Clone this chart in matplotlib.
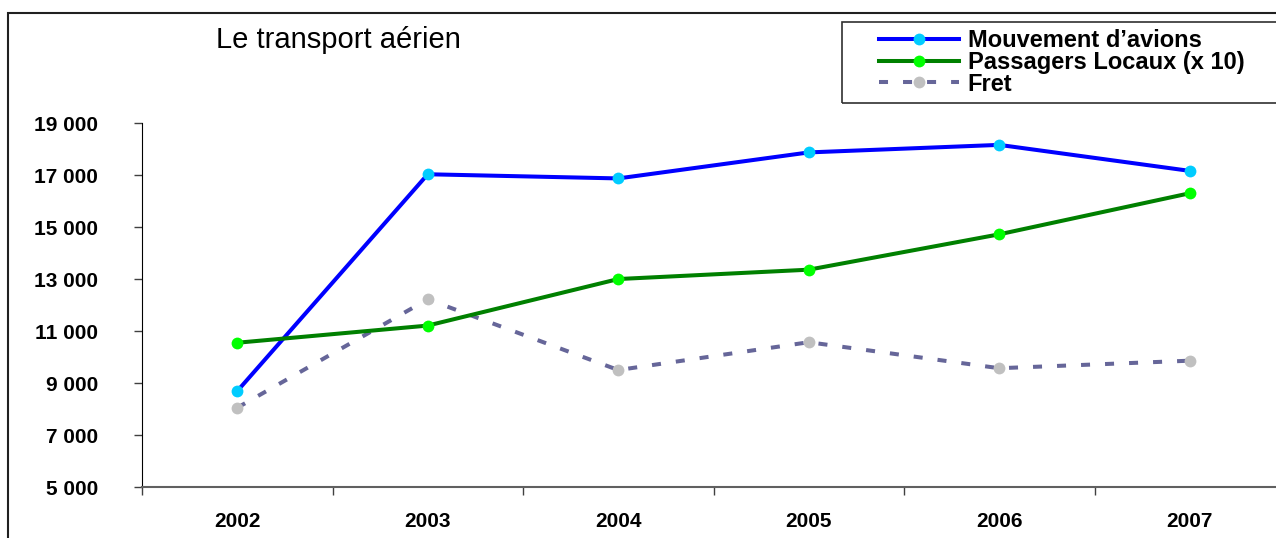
import matplotlib.pyplot as plt
import matplotlib.patches as patches
from matplotlib.ticker import FuncFormatter, FixedLocator
from matplotlib.lines import Line2D

plt.rcParams['font.family'] = ['Liberation Sans', 'DejaVu Sans']
plt.rcParams['lines.scale_dashes'] = False

years = ['2002', '2003', '2004', '2005', '2006', '2007']
mouvement = [8700, 17040, 16880, 17880, 18170, 17170]
passagers = [10560, 11220, 13010, 13370, 14730, 16310]
fret = [8060, 12230, 9510, 10580, 9580, 9870]
yticks = [5000, 7000, 9000, 11000, 13000, 15000, 17000, 19000]

W, H = 1276, 538
fig = plt.figure(figsize=(W / 100, H / 100), dpi=100)

# plot area in pixels: x 142..1285, y 123.3..487.3 (from top)
ax = fig.add_axes([142 / W, (H - 487.3) / H, 1143 / W, 364 / H])

x = list(range(len(years)))
ms = 8.5
ax.plot(x, mouvement, color='#0000FF', lw=2.9, marker='o', ms=ms,
        mfc='#00CCFF', mec='none', label='Mouvement d\u2019avions', zorder=3)
ax.plot(x, passagers, color='#008000', lw=2.9, marker='o', ms=ms,
        mfc='#00FF00', mec='none', label='Passagers Locaux (x 10)', zorder=3)
ax.plot(x, fret, color='#666699', lw=2.9, ls=(0, (6.5, 10.8)), marker='o',
        ms=ms, mfc='#C0C0C0', mec='none', label='Fret', zorder=2)

ax.set_xlim(-0.5, len(years) - 0.5)
ax.set_ylim(yticks[0], yticks[-1])
ax.set_yticks(yticks)
ax.yaxis.set_major_formatter(FuncFormatter(lambda v, p: f'{int(v):,}'.replace(',', ' ')))

# category labels centred between tick marks
ax.xaxis.set_major_locator(FixedLocator([i - 0.5 for i in range(len(years) + 1)]))
ax.set_xticklabels([])
ax.set_xticks(x, minor=True)
ax.set_xticklabels(years, minor=True)
ax.tick_params(axis='x', which='minor', length=0, pad=18)
ax.tick_params(axis='x', which='major', length=5.5, width=1, color='#404040')
ax.tick_params(axis='y', length=5.5, width=1, color='#404040', pad=26)
for lab in ax.get_xticklabels(minor=True) + ax.get_yticklabels():
    lab.set_fontsize(15)
    lab.set_fontweight('bold')

for s in ['top', 'right']:
    ax.spines[s].set_visible(False)
ax.spines['left'].set_color('black')
ax.spines['bottom'].set_color('#606060')
ax.spines['bottom'].set_linewidth(1.5)

# outer border of chart (runs past right / bottom edges)
fig.patches.append(patches.Rectangle((8 / W, -0.05), 1.2, (H - 13) / H + 0.05,
                                     transform=fig.transFigure, fill=False,
                                     edgecolor='#202020', lw=1.5, clip_on=False))
# legend box
fig.patches.append(patches.Rectangle((842 / W, (H - 103) / H), 0.5, 81 / H,
                                     transform=fig.transFigure, fill=False,
                                     edgecolor='#303030', lw=1.2, clip_on=False))

fig.text(216 / W, (H - 40) / H, 'Le transport a\u00e9rien', fontsize=21,
         va='center', ha='left')

handles = [
    Line2D([], [], color='#0000FF', lw=2.9, marker='o', ms=ms, mfc='#00CCFF', mec='none'),
    Line2D([], [], color='#008000', lw=2.9, marker='o', ms=ms, mfc='#00FF00', mec='none'),
    Line2D([], [], color='#666699', lw=2.9, ls=(0, (6.5, 10.8)), marker='o', ms=ms,
           mfc='#C0C0C0', mec='none'),
]
labels = ['Mouvement d\u2019avions', 'Passagers Locaux (x 10)', 'Fret']
fig.legend(handles, labels, loc='upper left', bbox_to_anchor=(879 / W, (H - 29) / H),
           frameon=False, borderpad=0, borderaxespad=0, handlelength=3.4,
           handletextpad=0.35, labelspacing=-0.05,
           prop={'family': 'Liberation Sans', 'weight': 'bold', 'size': 17})

fig.savefig('out.png', dpi=100)
